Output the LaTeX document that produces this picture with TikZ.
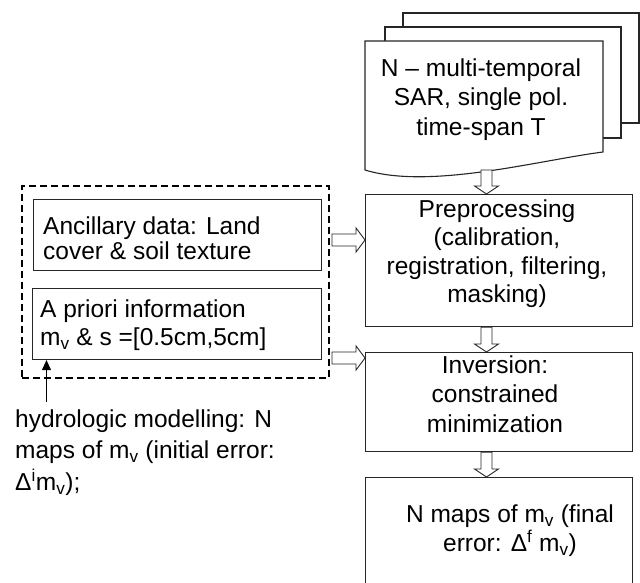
\documentclass[tikz,border=0pt]{standalone}
\usepackage{fontspec}
\setmainfont{Liberation Sans}
\usetikzlibrary{calc,arrows.meta}
\begin{document}
\begin{tikzpicture}[x=1pt,y=-1pt,
  box/.style={draw=black!85, line width=1.1pt, inner sep=0pt, anchor=north west},
  sheet/.style={draw=black!85, line width=1.1pt, fill=white},
  txt/.style={inner sep=0pt, anchor=north, align=center, font=\fontsize{24.5}{29.5}\selectfont},
  ltxt/.style={inner sep=0pt, anchor=north west, align=left, font=\fontsize{24.5}{29.5}\selectfont},
  hollowR/.style={draw=black!85, line width=0.9pt, fill=white,
    to path={let \p1=(\tikztostart),\p2=(\tikztotarget) in
      (\x1,\y1+6pt) -- (\x2-9pt,\y1+6pt) -- (\x2-9pt,\y1+12pt) -- (\x2,\y1)
      -- (\x2-9pt,\y1-12pt) -- (\x2-9pt,\y1-6pt) -- (\x1,\y1-6pt) -- cycle}},
  hollowD/.style={draw=black!85, line width=0.9pt, fill=white,
    to path={let \p1=(\tikztostart),\p2=(\tikztotarget) in
      (\x1-5.5pt,\y1) -- (\x1-5.5pt,\y2+8pt) -- (\x1-12pt,\y2+8pt) -- (\x1,\y2)
      -- (\x1+12pt,\y2+8pt) -- (\x1+5.5pt,\y2+8pt) -- (\x1+5.5pt,\y1) -- cycle}}
]
\useasboundingbox (0,0) rectangle (640,583);

% stacked documents
\draw[sheet] (403,13) rectangle (639,123);
\draw[sheet] (385,27) rectangle (621,138);
\draw[sheet] (365,41) -- (603,41) -- (603,152) .. controls (540,160) and (430,190) .. (365,170) -- cycle;
\node[txt] (doctxt) at (481,58.4) {N – multi-temporal\\SAR, single pol.\\time-span T};
\coordinate (d1) at (486.5,170);

% right column boxes
\node[box, minimum width=267pt, minimum height=132pt] (pre) at (365,194) {};
\node[box, minimum width=267pt, minimum height=99pt] (inv) at (365,352) {};
\node[box, minimum width=267pt, minimum height=130pt] (fin) at (365,477) {};
\node[txt, font=\fontsize{24.5}{28.5}\selectfont] (pretxt) at (497,199.4) {Preprocessing\\(calibration,\\registration, filtering,\\masking)};
\node[txt] (invtxt) at (495,355.4) {Inversion:\\constrained\\minimization};
\node[txt] (fintxt) at (510,504.4) {N maps of m\textsubscript{v} (final\\error: Δ\textsuperscript{f} m\textsubscript{v})};

% left group
\node[box, dashed, dash pattern=on 7pt off 4pt, line width=1.8pt, draw=black, minimum width=307pt, minimum height=192pt] (dash) at (21,185) {};
\node[box, minimum width=288pt, minimum height=71pt] (anc) at (33,199) {};
\node[box, minimum width=289pt, minimum height=71pt] (apr) at (32,288) {};
\node[ltxt, font=\fontsize{24.5}{25}\selectfont] (anctxt) at (43,216.4) {Ancillary data: Land\\cover \& soil texture};
\node[ltxt, font=\fontsize{24.5}{28}\selectfont] (aprtxt) at (40,299.4) {A priori information\\m\textsubscript{v} \& s =[0.5cm,5cm]};
\node[ltxt, font=\fontsize{24.5}{31.5}\selectfont] (hydtxt) at (15,409.4) {hydrologic modelling: N\\maps of m\textsubscript{v} (initial error:\\Δ\textsuperscript{i}m\textsubscript{v});};

% connectors
\draw[hollowD] (d1) to (d1 |- pre.north);
\draw[hollowD] (pre.south -| d1) to (inv.north -| d1);
\draw[hollowD] (inv.south -| d1) to (fin.north -| d1);
\coordinate (l1) at (332,240);
\coordinate (l2) at (332,358);
\draw[hollowR] (l1) to (l1 -| pre.west);
\draw[hollowR] (l2) to (l2 -| inv.west);
\coordinate (h) at (46.5,402);
\draw[black, line width=1pt, -{Triangle[length=10pt,width=9pt]}] (h) -- (h |- apr.south);
\end{tikzpicture}
\end{document}
